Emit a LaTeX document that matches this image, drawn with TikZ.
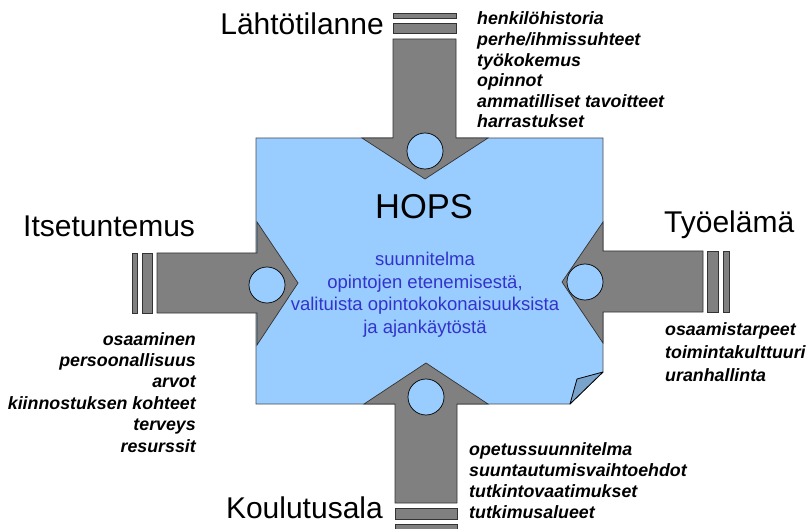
\documentclass[tikz,border=0pt]{standalone}
\usepackage{fontspec}
\setmainfont{Liberation Sans}
\definecolor{hopsblue}{RGB}{153,204,255}
\definecolor{foldblue}{RGB}{122,163,204}
\definecolor{arrowgray}{RGB}{128,128,128}
\definecolor{planblue}{RGB}{51,51,204}
\begin{document}
\begin{tikzpicture}[x=1pt,y=-1pt,
  plate/.style={fill=hopsblue, draw=black!70, line width=0.8pt},
  foldpart/.style={fill=foldblue, draw=black, line width=0.8pt, line join=round},
  arrowbody/.style={fill=arrowgray, draw=black!80, line width=0.7pt},
  hub/.style={fill=hopsblue, draw=black, line width=0.7pt},
  title/.style={font=\fontsize{30}{36}\selectfont, inner sep=0pt},
  bigtitle/.style={font=\fontsize{34.5}{40}\selectfont, inner sep=0pt},
  item/.style={font=\fontsize{17.8}{21}\selectfont\bfseries\itshape, inner sep=0pt},
  planline/.style={font=\fontsize{18.5}{22}\selectfont, text=planblue, inner sep=0pt}]
\clip (0,0) rectangle (811,529);
\fill[white] (0,0) rectangle (811,529);

% the plan sheet with its curled corner
\draw[plate] (256,138) -- (603,138) -- (603,372) -- (570,404) -- (256,404) -- cycle;
\draw[foldpart] (603,372) -- (577,379) -- (570,404) -- cycle;

% arrow from the top
\draw[arrowbody] (393,13) rectangle (456,18);
\draw[arrowbody] (393,23) rectangle (456,33);
\draw[arrowbody] (393,39) -- (456,39) -- (456,138) -- (488,138) -- (425,179)
  -- (362,138) -- (393,138) -- cycle;
\draw[hub] (425,151) circle (18);

% arrow from the bottom
\draw[arrowbody] (395,508) rectangle (457,519);
\draw[arrowbody] (395,524) rectangle (457,536);
\draw[arrowbody] (395,503) -- (457,503) -- (457,404) -- (488,404) -- (426,363)
  -- (364,404) -- (395,404) -- cycle;
\draw[hub] (426,397) circle (18);

% arrow from the left
\draw[arrowbody] (132,253) rectangle (137,313);
\draw[arrowbody] (142,253) rectangle (152,313);
\draw[arrowbody] (157,253) -- (157,313) -- (257,313) -- (257,345) -- (298,283)
  -- (257,222) -- (257,253) -- cycle;
\draw[hub] (267,285) circle (18);

% arrow from the right
\draw[arrowbody] (707,251) rectangle (718,312);
\draw[arrowbody] (723,251) rectangle (729,312);
\draw[arrowbody] (703,251) -- (703,312) -- (603,312) -- (603,343) -- (562,282)
  -- (603,222) -- (603,251) -- cycle;
\draw[hub] (585,282) circle (18);

% headings
\node[title, anchor=base east] (lahto) at (384,35) {Lähtötilanne};
\node[title, anchor=base west] (itse) at (23,237) {Itsetuntemus};
\node[title, anchor=base west] (tyo) at (664,233) {Työelämä};
\node[title, anchor=base east] (koulu) at (383,518) {Koulutusala};
\node[bigtitle, anchor=base] (hops) at (424,219) {HOPS};

% plan description
\foreach \t [count=\i] in {suunnitelma, opintojen etenemisestä{,},
    valituista opintokokonaisuuksista, ja ajankäytöstä}
  \node[planline, anchor=base] (plan\i) at (425,{243+22.5*\i}) {\t};

% item lists
\foreach \t [count=\i] in {henkilöhistoria, perhe/ihmissuhteet, työkokemus,
    opinnot, ammatilliset tavoitteet, harrastukset}
  \node[item, anchor=base west] (top\i) at (477,{4.4+20.6*\i}) {\t};
\foreach \t [count=\i] in {osaaminen, persoonallisuus, arvot,
    kiinnostuksen kohteet, terveys, resurssit}
  \node[item, anchor=base east] (left\i) at (196,{323.6+21.4*\i}) {\t};
\foreach \t [count=\i] in {osaamistarpeet, toimintakulttuuri, uranhallinta}
  \node[item, anchor=base west] (right\i) at (665,{312+23*\i}) {\t};
\foreach \t [count=\i] in {opetussuunnitelma, suuntautumisvaihtoehdot,
    tutkintovaatimukset, tutkimusalueet}
  \node[item, anchor=base west] (bot\i) at (469,{434+21*\i}) {\t};
\end{tikzpicture}
\end{document}
